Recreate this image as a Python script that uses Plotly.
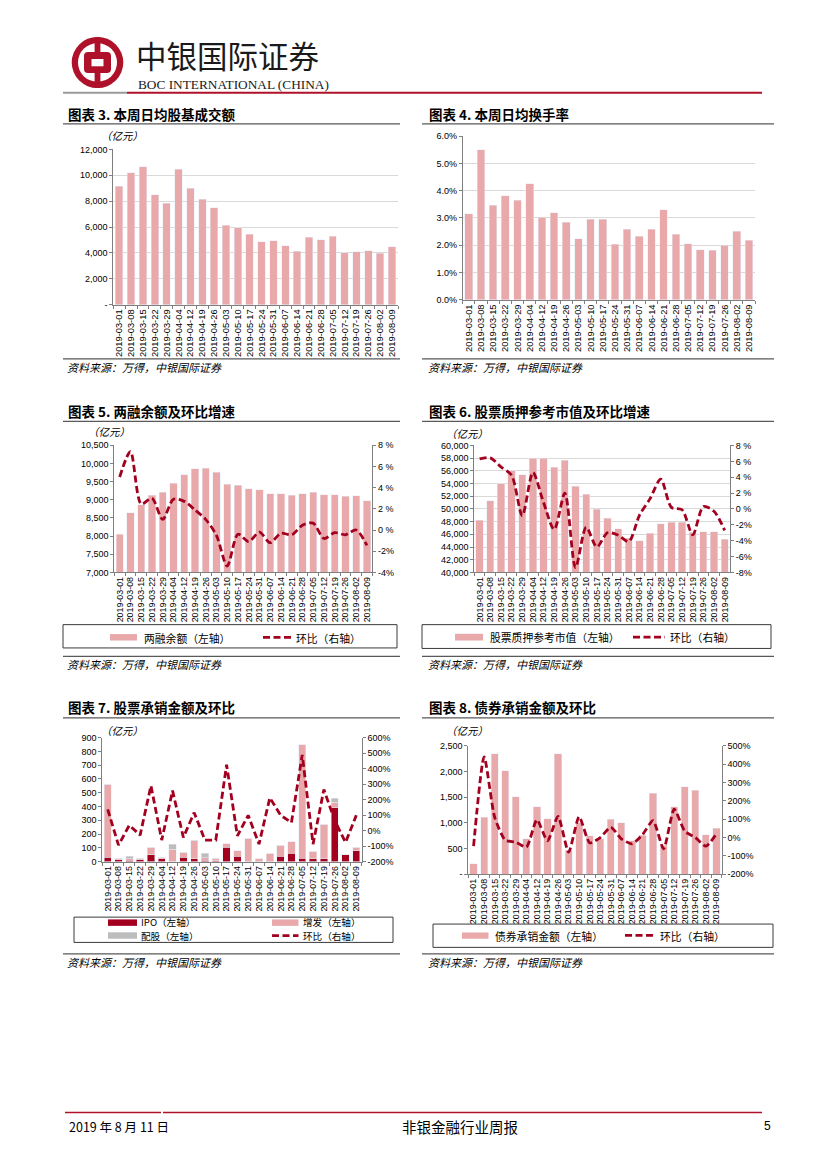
import plotly.graph_objects as go

W, H = 827, 1169


def X(px):
    return px / W


def Y(py):
    return 1 - py / H


# ---------------- data ----------------
dates = ["2019-03-01", "2019-03-08", "2019-03-15", "2019-03-22", "2019-03-29", "2019-04-04",
         "2019-04-12", "2019-04-19", "2019-04-26", "2019-05-03", "2019-05-10", "2019-05-17",
         "2019-05-24", "2019-05-31", "2019-06-07", "2019-06-14", "2019-06-21", "2019-06-28",
         "2019-07-05", "2019-07-12", "2019-07-19", "2019-07-26", "2019-08-02", "2019-08-09"]

# 图表3 本周日均股基成交额 (亿元)
turnover_amt = [9160, 10210, 10670, 8500, 7860, 10470, 8990, 8170, 7480, 6130, 5950, 5440,
                4850, 4930, 4570, 4140, 5230, 5030, 5310, 4030, 4080, 4160, 3980, 4490]
# 图表4 本周日均换手率 (%)
turnover_rate = [3.16, 5.50, 3.47, 3.81, 3.65, 4.25, 3.03, 3.19, 2.84, 2.23, 2.96, 2.96,
                 2.04, 2.58, 2.32, 2.58, 3.31, 2.41, 2.06, 1.83, 1.82, 2.00, 2.52, 2.18]
# 图表5 两融余额 (亿元) 及环比 (%)
margin_bal = [8050, 8645, 8860, 9120, 9210, 9450, 9690, 9850, 9870, 9750, 9420, 9400,
              9300, 9270, 9170, 9170, 9120, 9170, 9210, 9140, 9140, 9090, 9110, 8970]
margin_chg = [5.0, 7.4, 2.45, 3.0, 1.0, 2.9, 2.7, 1.9, 1.0, -0.5, -3.4, -0.4,
              -1.1, -0.2, -1.2, -0.3, -0.45, 0.45, 0.65, -0.8, -0.25, -0.45, 0.0, -1.45]
# 图表6 股票质押参考市值 (亿元) 及环比 (%)
pledge_val = [48200, 51300, 54000, 56000, 55400, 58000, 58000, 56600, 57700, 53600, 52300, 49950,
              48500, 46900, 45400, 45000, 46150, 47700, 47900, 47900, 46300, 46400, 46400, 45200]
pledge_chg = [6.3, 6.45, 5.3, 4.25, -0.85, 4.6, 0.8, -2.6, 2.0, -7.4, -2.3, -4.8,
              -3.0, -3.3, -4.1, -0.8, 1.3, 3.75, 0.2, -0.1, -3.25, 0.3, -0.3, -2.7]
# 图表7 股票承销金额 (亿元) 及环比 (%)
ipo = [30, 15, 10, 15, 50, 20, 0, 30, 20, 10, 8, 105, 40, 0, 0, 0, 38, 60, 25, 22, 22, 390, 48, 80]
zengfa = [530, 10, 12, 8, 55, 10, 90, 37, 130, 17, 17, 25, 40, 170, 20, 60, 80, 86, 825, 53, 250, 40, 2, 25]
peigu = [0, 0, 16, 0, 0, 0, 35, 0, 5, 35, 0, 0, 0, 0, 0, 0, 0, 0, 0, 0, 0, 30, 0, 0]
equity_chg = [137, -94, 35, -29, 290, -61, 258, -44, 116, -61, -61, 425,
              -34, 99, -87, 212, 99, 52, 489, -87, 265, 66, -76, 99]
# 图表8 债券承销金额 (亿元) 及环比 (%)
bond_amt = [200, 1110, 2350, 2020, 1510, 690, 1310, 1080, 2350, 470, 1000, 745,
            690, 1070, 1000, 650, 760, 1580, 560, 1310, 1700, 1640, 770, 900]
bond_chg = [-47, 440, 110, -14, -25, -52, 97, -18, 115, -80, 114, -29,
            0, 56, -7, -34, 16, 92, -62, 155, 35, 0, -47, 20]

# tick labels
t3_vals = [0, 2000, 4000, 6000, 8000, 10000, 12000]
t3_text = ["-", "2,000", "4,000", "6,000", "8,000", "10,000", "12,000"]
t4_vals = [0, 1, 2, 3, 4, 5, 6]
t4_text = ["0.0%", "1.0%", "2.0%", "3.0%", "4.0%", "5.0%", "6.0%"]
t5l_vals = [7000, 7500, 8000, 8500, 9000, 9500, 10000, 10500]
t5l_text = ["7,000", "7,500", "8,000", "8,500", "9,000", "9,500", "10,000", "10,500"]
t5r_vals = [-4, -2, 0, 2, 4, 6, 8]
t5r_text = ["-4%", "-2%", "0 %", "2 %", "4 %", "6 %", "8 %"]
t6l_vals = [40000, 42000, 44000, 46000, 48000, 50000, 52000, 54000, 56000, 58000, 60000]
t6l_text = ["40,000", "42,000", "44,000", "46,000", "48,000", "50,000", "52,000", "54,000",
            "56,000", "58,000", "60,000"]
t6r_vals = [-8, -6, -4, -2, 0, 2, 4, 6, 8]
t6r_text = ["-8%", "-6%", "-4%", "-2%", "0 %", "2 %", "4 %", "6 %", "8 %"]
t7l_vals = [0, 100, 200, 300, 400, 500, 600, 700, 800, 900]
t7l_text = ["0", "100", "200", "300", "400", "500", "600", "700", "800", "900"]
t7r_vals = [-200, -100, 0, 100, 200, 300, 400, 500, 600]
t7r_text = ["-200%", "-100%", "0%", "100%", "200%", "300%", "400%", "500%", "600%"]
t8l_vals = [0, 500, 1000, 1500, 2000, 2500]
t8l_text = ["-", "500", "1,000", "1,500", "2,000", "2,500"]
t8r_vals = [-200, -100, 0, 100, 200, 300, 400, 500]
t8r_text = ["-200%", "-100%", "0%", "100%", "200%", "300%", "400%", "500%"]

# ---------------- styles ----------------
CJK = "Noto Sans CJK SC"
LAT = "Liberation Sans"
PINK = "#E9A8A9"
RED = "#A3001F"
GRAYBAR = "#BDBDBD"
AXIS = "#7F7F7F"
GRID = "#D9D9D9"
BRAND = "#B0112A"
DASH = "7px,3.5px"
TICKFONT = dict(family=LAT, size=9, color="#000")

fig = go.Figure()


def xaxis_cfg(x0, x1, anchor, size=9.3):
    return dict(domain=[X(x0), X(x1)], anchor=anchor, type="category", tickangle=-90,
                tickmode="array", tickvals=dates, ticktext=dates,
                tickfont=dict(family=LAT, size=size, color="#000"), ticks="outside", ticklen=3,
                tickcolor=AXIS, tickson="boundaries", showline=True, linecolor=AXIS, linewidth=1,
                showgrid=False, range=[-0.5, 23.5], fixedrange=True)


def yaxis_cfg(top, bottom, anchor, rng, vals, text, grid=False, side="left", overlaying=None):
    d = dict(domain=[Y(bottom), Y(top)], anchor=anchor, range=rng, tickvals=vals, ticktext=text,
             tickfont=TICKFONT, ticks="outside", ticklen=3, tickcolor=AXIS, showline=True,
             linecolor=AXIS, linewidth=1, showgrid=grid, gridcolor=GRID, gridwidth=1,
             zeroline=False, side=side, fixedrange=True)
    if overlaying:
        d["overlaying"] = overlaying
    return d


layout = dict(width=W, height=H, margin=dict(l=0, r=0, t=0, b=0), paper_bgcolor="white",
              plot_bgcolor="rgba(0,0,0,0)", showlegend=False, barmode="stack", hovermode=False)

# chart 3
layout["xaxis"] = xaxis_cfg(113.3, 398, "y")
layout["yaxis"] = yaxis_cfg(145.7, 302.3, "x", [0, 12000], t3_vals, t3_text, grid=True)
fig.add_trace(go.Bar(x=dates, y=turnover_amt, marker_color=PINK, width=0.63, xaxis="x", yaxis="y"))

# chart 4
layout["xaxis2"] = xaxis_cfg(462.7, 755, "y2")
layout["yaxis2"] = yaxis_cfg(132.3, 297.3, "x2", [0, 6], t4_vals, t4_text, grid=True)
fig.add_trace(go.Bar(x=dates, y=turnover_rate, marker_color=PINK, width=0.63, xaxis="x2", yaxis="y2"))

# chart 5
layout["xaxis3"] = xaxis_cfg(114.3, 372.3, "y3", size=8.9)
layout["yaxis3"] = yaxis_cfg(444, 572.3, "x3", [7000, 10500], t5l_vals, t5l_text)
layout["yaxis4"] = yaxis_cfg(444, 572.3, "x3", [-4, 8], t5r_vals, t5r_text, side="right", overlaying="y3")
fig.add_trace(go.Bar(x=dates, y=margin_bal, marker_color=PINK, width=0.68, xaxis="x3", yaxis="y3"))
fig.add_trace(go.Scatter(x=dates, y=margin_chg, mode="lines", xaxis="x3", yaxis="y4",
                         line=dict(color=RED, width=2.8, dash=DASH, shape="spline", smoothing=0.8)))

# chart 6
layout["xaxis4"] = xaxis_cfg(474.3, 730, "y5", size=8.9)
layout["yaxis5"] = yaxis_cfg(444.3, 572.3, "x4", [40000, 60000], t6l_vals, t6l_text, grid=True)
layout["yaxis6"] = yaxis_cfg(444.3, 572.3, "x4", [-8, 8], t6r_vals, t6r_text, side="right", overlaying="y5")
fig.add_trace(go.Bar(x=dates, y=pledge_val, marker_color=PINK, width=0.68, xaxis="x4", yaxis="y5"))
fig.add_trace(go.Scatter(x=dates, y=pledge_chg, mode="lines", xaxis="x4", yaxis="y6",
                         line=dict(color=RED, width=2.8, dash=DASH, shape="spline", smoothing=0.8)))

# chart 7
layout["xaxis5"] = xaxis_cfg(102.3, 361.7, "y7", size=8.9)
layout["yaxis7"] = yaxis_cfg(739, 864, "x5", [0, 900], t7l_vals, t7l_text)
layout["yaxis8"] = yaxis_cfg(739, 864, "x5", [-200, 600], t7r_vals, t7r_text, side="right", overlaying="y7")
fig.add_trace(go.Bar(x=dates, y=ipo, marker_color=RED, width=0.68, xaxis="x5", yaxis="y7"))
fig.add_trace(go.Bar(x=dates, y=zengfa, marker_color=PINK, width=0.68, xaxis="x5", yaxis="y7"))
fig.add_trace(go.Bar(x=dates, y=peigu, marker_color=GRAYBAR, width=0.68, xaxis="x5", yaxis="y7"))
fig.add_trace(go.Scatter(x=dates, y=equity_chg, mode="lines", xaxis="x5", yaxis="y8",
                         line=dict(color=RED, width=2.8, dash=DASH)))

# chart 8
layout["xaxis6"] = xaxis_cfg(468.3, 721.7, "y9", size=8.9)
layout["yaxis9"] = yaxis_cfg(747.3, 876.7, "x6", [0, 2500], t8l_vals, t8l_text)
layout["yaxis10"] = yaxis_cfg(747.3, 876.7, "x6", [-200, 500], t8r_vals, t8r_text, side="right", overlaying="y9")
fig.add_trace(go.Bar(x=dates, y=bond_amt, marker_color=PINK, width=0.68, xaxis="x6", yaxis="y9"))
fig.add_trace(go.Scatter(x=dates, y=bond_chg, mode="lines", xaxis="x6", yaxis="y10",
                         line=dict(color=RED, width=2.8, dash=DASH, shape="spline", smoothing=0.6)))

# ---------------- decorations ----------------
shapes = []
annotations = []


def hline(x0, x1, y, color="#4D4D4D", width=1, dash=None):
    ln = dict(color=color, width=width)
    if dash:
        ln["dash"] = dash
    shapes.append(dict(type="line", xref="paper", yref="paper", x0=X(x0), x1=X(x1), y0=Y(y), y1=Y(y), line=ln))


def rect(x0, y0, x1, y1, fill=None, line_color=None, lw=1):
    d = dict(type="rect", xref="paper", yref="paper", x0=X(x0), x1=X(x1), y0=Y(y1), y1=Y(y0),
             line=dict(width=lw if line_color else 0, color=line_color or "rgba(0,0,0,0)"))
    d["fillcolor"] = fill if fill else "rgba(0,0,0,0)"
    shapes.append(d)


def circle(cx, cy, r, fill):
    shapes.append(dict(type="circle", xref="paper", yref="paper", x0=X(cx - r), x1=X(cx + r),
                       y0=Y(cy + r), y1=Y(cy - r), fillcolor=fill, line=dict(width=0)))


def text(t, x, y, size=10, family=CJK, color="#000", xanchor="left", pad=1):
    annotations.append(dict(text=t, x=X(x), y=Y(y), xref="paper", yref="paper", showarrow=False,
                            xanchor=xanchor, yanchor="middle", borderpad=pad,
                            font=dict(family=family, size=size, color=color)))


# header logo
circle(97.5, 58, 25.8, BRAND)
circle(97.5, 58, 19.5, "white")
rect(94.6, 32.5, 100.4, 83.5, fill=BRAND)
shapes.append(dict(type="path", xref="paper", yref="paper", fillcolor=BRAND, line=dict(width=0),
                   path=f"M {X(88)},{Y(47.5)} L {X(107)},{Y(47.5)} Q {X(111)},{Y(47.5)} {X(111)},{Y(51.5)} "
                        f"L {X(111)},{Y(64.5)} Q {X(111)},{Y(68.5)} {X(107)},{Y(68.5)} L {X(88)},{Y(68.5)} "
                        f"Q {X(84)},{Y(68.5)} {X(84)},{Y(64.5)} L {X(84)},{Y(51.5)} Q {X(84)},{Y(47.5)} {X(88)},{Y(47.5)} Z"))
rect(91.5, 54.5, 103.5, 61.8, fill="white")
text("中银国际证券", 134, 50.5, size=30.5, family=CJK, color="#1a1a1a")
text("BOC INTERNATIONAL (CHINA)", 135.5, 80.5, size=13.3, family="Liberation Serif", color="#1a1a1a")
hline(63, 127, 88.5, color="#9A9A9A", width=2)
hline(127, 762, 88.5, color=BRAND, width=2)

# footer
hline(65, 161, 1117, color=BRAND, width=1.5)
hline(163, 762, 1117, color=BRAND, width=1.5)
text("2019 年 8 月 11 日", 67, 1131, size=12.5)
text("非银金融行业周报", 460, 1131, size=14.5, xanchor="center")
text("5", 773, 1131, size=12, family=LAT, xanchor="right")

# panel titles, rules and sources
panels = [
    ("图表 3. 本周日均股基成交额", 66, 110, 63, 400, 120, 357, 365),
    ("图表 4. 本周日均换手率", 427, 110, 422, 774, 120, 357, 365),
    ("图表 5. 两融余额及环比增速", 66, 410, 63, 400, 420, 657, 665),
    ("图表 6. 股票质押参考市值及环比增速", 427, 410, 422, 774, 420, 657, 665),
    ("图表 7. 股票承销金额及环比", 66, 708, 63, 400, 719, 957, 965),
    ("图表 8. 债券承销金额及环比", 427, 708, 422, 774, 719, 957, 965),
]
for title, tx, ty, lx0, lx1, ly_top, ly_bot, sy in panels:
    annotations.append(dict(text=f"<b>{title}</b>", x=X(tx), y=Y(ty), xref="paper", yref="paper",
                            showarrow=False, xanchor="left", yanchor="middle",
                            font=dict(family=CJK, size=13.5, color="#000")))
    hline(lx0, lx1, ly_top, color="#595959", width=1.2)
    hline(lx0, lx1, ly_bot, color="#595959", width=1.2)
    text("<i>资料来源：万得，中银国际证券</i>", tx - 1, sy, size=11)

# unit labels
for ux, uy in [(103, 131.5), (90, 430), (448, 432), (103, 731.5), (448, 731.5)]:
    text("<i>（亿元）</i>", ux - 4, uy, size=10.5)

# legends
LEG_BORDER = "#3A3A3A"
LF = 10.8
LF7 = 9.6
# chart 5
rect(63, 625, 397, 648.5, line_color=LEG_BORDER, lw=1)
rect(110, 634.5, 137, 641, fill=PINK)
text("两融余额（左轴）", 142, 638, size=LF)
hline(263, 291, 637.8, color=RED, width=2.8, dash=DASH)
text("环比（右轴）", 294, 638, size=LF)
# chart 6
rect(422, 625, 771, 649, line_color=LEG_BORDER, lw=1)
rect(455, 634.2, 483, 641, fill=PINK)
text("股票质押参考市值（左轴）", 488, 637.8, size=LF)
hline(633, 665, 637.6, color=RED, width=2.8, dash=DASH)
text("环比（右轴）", 668, 637.8, size=LF)
# chart 7 (two rows)
rect(74, 920, 393, 945.5, line_color=LEG_BORDER, lw=1)
rect(108, 922.3, 137, 928.8, fill=RED)
text("IPO（左轴）", 140, 925.4, size=LF7, pad=0)
rect(272, 922.3, 298.5, 928.8, fill=PINK)
text("增发（左轴）", 302, 925.4, size=LF7, pad=0)
rect(108, 935.3, 137, 941.8, fill=GRAYBAR)
text("配股（左轴）", 140, 938.8, size=LF7, pad=0)
hline(272, 298.5, 938.6, color=RED, width=2.8, dash=DASH)
text("环比（右轴）", 302, 938.8, size=LF7, pad=0)
# chart 8
rect(433, 927, 773, 950.5, line_color=LEG_BORDER, lw=1)
rect(462, 935.5, 488.5, 941.8, fill=PINK)
text("债券承销金额（左轴）", 493, 938.6, size=LF)
hline(625, 655, 938.5, color=RED, width=2.8, dash=DASH)
text("环比（右轴）", 658, 938.6, size=LF)

layout["shapes"] = shapes
layout["annotations"] = annotations
fig.update_layout(**layout)

fig.write_html("out.html", config={"displayModeBar": False, "staticPlot": True},
               post_script="document.body.style.margin='0';document.body.style.overflow='hidden';")
